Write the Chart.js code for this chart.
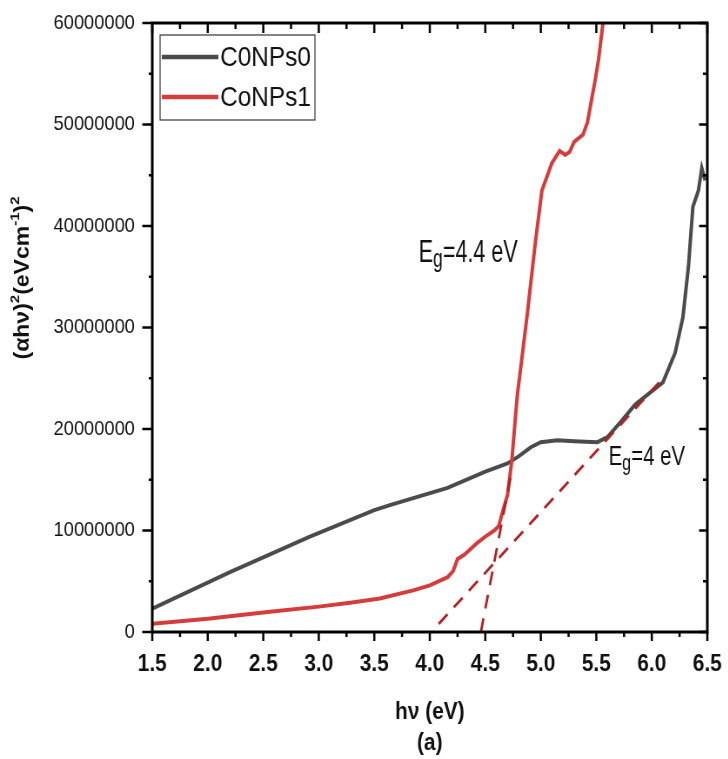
<!DOCTYPE html>
<html>
<head>
<meta charset="utf-8">
<title>Tauc plot</title>
<script src="https://cdn.jsdelivr.net/npm/chart.js@4.4.0/dist/chart.umd.min.js"></script>
<style>
  html, body { margin: 0; padding: 0; background: #fff; overflow: hidden; }
  /* the figure is laid out wide and squeezed horizontally, giving the narrow lettering */
  #wrap { width: 837px; height: 759px; transform: scaleX(0.87); transform-origin: 0 0; }
</style>
</head>
<body>
<div id="wrap"><canvas id="taucChart"></canvas></div>
<script>
// C0NPs0 sample: photon energy (eV) and (alpha h nu)^2
var energy0 = [1.5, 2.2, 2.92, 3.5, 3.64, 4.16, 4.5, 4.7, 4.8, 4.91, 5.0, 5.15, 5.3, 5.51, 5.6,
               5.72, 5.85, 6.1, 6.21, 6.28, 6.33, 6.37, 6.42, 6.45, 6.48];
var tauc0 = [2.3e6, 5.9e6, 9.4e6, 12.0e6, 12.5e6, 14.2e6, 15.8e6, 16.6e6, 17.3e6, 18.2e6, 18.7e6,
             18.9e6, 18.8e6, 18.7e6, 19.2e6, 20.7e6, 22.4e6, 24.6e6, 27.5e6, 31.0e6, 36.0e6,
             41.9e6, 43.5e6, 45.7e6, 44.5e6];

// CoNPs1 sample
var energy1 = [1.5, 2.0, 2.56, 3.0, 3.3, 3.55, 3.85, 4.0, 4.16, 4.21, 4.25, 4.31, 4.36, 4.43, 4.5,
               4.58, 4.62, 4.66, 4.7, 4.74, 4.77, 4.79, 4.83, 4.88, 4.95, 5.01, 5.1, 5.17, 5.22,
               5.26, 5.3, 5.38, 5.42, 5.49, 5.52, 5.56, 5.58];
var tauc1 = [0.8e6, 1.3e6, 2.0e6, 2.5e6, 2.9e6, 3.3e6, 4.1e6, 4.6e6, 5.4e6, 6.0e6, 7.2e6, 7.6e6,
             8.1e6, 8.8e6, 9.4e6, 10.0e6, 10.4e6, 12.0e6, 13.5e6, 17.0e6, 21.0e6, 23.5e6, 27.0e6,
             31.5e6, 38.3e6, 43.5e6, 46.2e6, 47.4e6, 47.0e6, 47.3e6, 48.3e6, 49.0e6, 50.2e6,
             54.4e6, 56.4e6, 60.0e6, 62.0e6];

// linear fits extrapolated to the energy axis
var fitE1 = [4.46, 4.74];
var fitY1 = [0, 16.0e6];
var fitE0 = [4.08, 6.1];
var fitY0 = [0.8e6, 25.0e6];

var seriesNames = ['C0NPs0', 'CoNPs1'];
var gapLabels = ['4.4 eV', '4 eV'];

var xRange = [1.5, 6.5];
var yRange = [0, 60000000];

var GREY = '#4b4b4b';
var RED = '#d43d3d';
var FIT = '#b32222';
var FONT = "'Liberation Sans', Arial, sans-serif";

function pairs(xs, ys) {
  return xs.map(function(x, i) { return { x: x, y: ys[i] }; });
}

// frame on all four sides plus major and minor tick marks
var frameTicks = {
  id: 'frameTicks',
  afterDraw: function(chart) {
    var ctx = chart.ctx, a = chart.chartArea;
    var xs = chart.scales.x, ys = chart.scales.y;
    var xv = xs.ticks.map(function(t) { return t.value; });
    var yv = ys.ticks.map(function(t) { return t.value; });
    ctx.save();
    ctx.strokeStyle = '#000';
    ctx.lineWidth = 2.5;
    ctx.beginPath();
    xv.forEach(function(v, i) {
      var p = xs.getPixelForValue(v);
      ctx.moveTo(p, a.bottom); ctx.lineTo(p, a.bottom + 9);
      ctx.moveTo(p, a.top); ctx.lineTo(p, a.top + 10);
      if (i < xv.length - 1) {
        var m = xs.getPixelForValue((v + xv[i + 1]) / 2);
        ctx.moveTo(m, a.bottom); ctx.lineTo(m, a.bottom + 5);
        ctx.moveTo(m, a.top); ctx.lineTo(m, a.top + 6);
      }
    });
    yv.forEach(function(v, i) {
      var p = ys.getPixelForValue(v);
      ctx.moveTo(a.left - 11.5, p); ctx.lineTo(a.left, p);
      ctx.moveTo(a.right - 9.5, p); ctx.lineTo(a.right, p);
      if (i < yv.length - 1) {
        var m = ys.getPixelForValue((v + yv[i + 1]) / 2);
        ctx.moveTo(a.left - 4, m); ctx.lineTo(a.left, m);
        ctx.moveTo(a.right - 5, m); ctx.lineTo(a.right, m);
      }
    });
    ctx.stroke();
    ctx.lineWidth = 3;
    ctx.strokeRect(a.left, a.top, a.right - a.left, a.bottom - a.top);
    ctx.restore();
  }
};

// y title with superscripts, the in-frame legend and the band gap notes
var extras = {
  id: 'extras',
  afterDraw: function(chart) {
    var ctx = chart.ctx;
    var xs = chart.scales.x, ys = chart.scales.y;
    ctx.save();
    ctx.fillStyle = '#111';

    // rotated y title: (αhν)²(eVcm⁻¹)²
    var parts = [['(\u03b1h\u03bd)', 0], ['2', 1], ['(eVcm', 0], ['-1', 1], [')', 0], ['2', 1]];
    var big = 'bold 23px ' + FONT, small = 'bold 15px ' + FONT;
    var total = 0;
    parts.forEach(function(p) { ctx.font = p[1] ? small : big; total += ctx.measureText(p[0]).width; });
    ctx.translate(27, 278);
    ctx.rotate(-Math.PI / 2);
    ctx.textBaseline = 'middle';
    var cx = -total / 2;
    parts.forEach(function(p) {
      ctx.font = p[1] ? small : big;
      ctx.fillText(p[0], cx, p[1] ? -9 : 0);
      cx += ctx.measureText(p[0]).width;
    });
    ctx.setTransform(1, 0, 0, 1, 0, 0);

    // legend box
    var ds = chart.data.datasets;
    ctx.strokeStyle = '#333';
    ctx.lineWidth = 1.2;
    ctx.strokeRect(184, 35, 178, 85);
    ctx.font = '28px ' + FONT;
    ctx.textBaseline = 'middle';
    [0, 1].forEach(function(i) {
      var y = 57 + i * 40;
      ctx.strokeStyle = ds[i].borderColor;
      ctx.lineWidth = 4.5;
      ctx.beginPath(); ctx.moveTo(186, y); ctx.lineTo(251, y); ctx.stroke();
      ctx.fillStyle = '#111';
      ctx.fillText(ds[i].label, 253, y + 1);
    });

    // E_g annotations, placed in data coordinates
    function gapNote(text, e, v, size, squeeze) {
      ctx.save();
      ctx.translate(xs.getPixelForValue(e), ys.getPixelForValue(v));
      ctx.scale(squeeze, 1);
      ctx.textBaseline = 'alphabetic';
      ctx.fillStyle = '#111';
      ctx.font = size + 'px ' + FONT;
      ctx.fillText('E', 0, 0);
      var w = ctx.measureText('E').width;
      ctx.font = Math.round(size * 0.8) + 'px ' + FONT;
      ctx.fillText('g', w, 5);
      w += ctx.measureText('g').width;
      ctx.font = size + 'px ' + FONT;
      ctx.fillText('=' + text, w, 0);
      ctx.restore();
    }
    gapNote(gapLabels[0], 3.9, 36.45e6, 31, 0.8);
    gapNote(gapLabels[1], 5.61, 16.45e6, 28, 0.84);
    ctx.restore();
  }
};

var datasets = [
  { label: 'fit1', data: pairs(fitE1, fitY1), borderColor: FIT, borderWidth: 2.8, borderDash: [14, 10], order: 0 },
  { label: 'fit0', data: pairs(fitE0, fitY0), borderColor: FIT, borderWidth: 2.8, borderDash: [14, 10], order: 0 },
  { label: seriesNames[1], data: pairs(energy1, tauc1), borderColor: RED, borderWidth: 4, order: 1 },
  { label: seriesNames[0], data: pairs(energy0, tauc0), borderColor: GREY, borderWidth: 4, order: 2 }
];
// legend rows read the two samples first
var legendOrder = [datasets[3], datasets[2]];

new Chart(document.getElementById('taucChart'), {
  type: 'line',
  data: { datasets: legendOrder.concat([datasets[0], datasets[1]]) },
  options: {
    responsive: true,
    maintainAspectRatio: false,
    animation: false,
    layout: { padding: { top: 23, right: 24, bottom: 0, left: 0 } },
    elements: { point: { radius: 0 }, line: { tension: 0, fill: false } },
    plugins: { legend: { display: false }, tooltip: { enabled: false } },
    scales: {
      x: {
        type: 'linear',
        min: xRange[0], max: xRange[1],
        grid: { display: false, drawTicks: false },
        border: { display: false },
        ticks: {
          stepSize: 0.5, padding: 18, color: '#111',
          font: { family: FONT, size: 24, weight: 'bold' },
          callback: function(v) { return v.toFixed(1); }
        },
        title: {
          display: true, text: ['h\u03bd (eV)', '(a)'], color: '#111',
          font: { family: FONT, size: 24, weight: 'bold', lineHeight: '31px' },
          padding: { top: 0, bottom: 0 }
        },
        // fixed band below the plot; label overhang is covered by the layout padding
        afterFit: function(s) { s.height = 127; s.paddingLeft = 0; s.paddingRight = 0; }
      },
      y: {
        min: yRange[0], max: yRange[1],
        grid: { display: false, drawTicks: false },
        border: { display: false },
        ticks: {
          stepSize: 10000000, padding: 20, color: '#111',
          font: { family: FONT, size: 21 },
          callback: function(v) { return String(v); }
        },
        afterFit: function(s) { s.width = 175; s.paddingTop = 0; s.paddingBottom = 0; }
      }
    }
  },
  plugins: [frameTicks, extras]
});
</script>
</body>
</html>
